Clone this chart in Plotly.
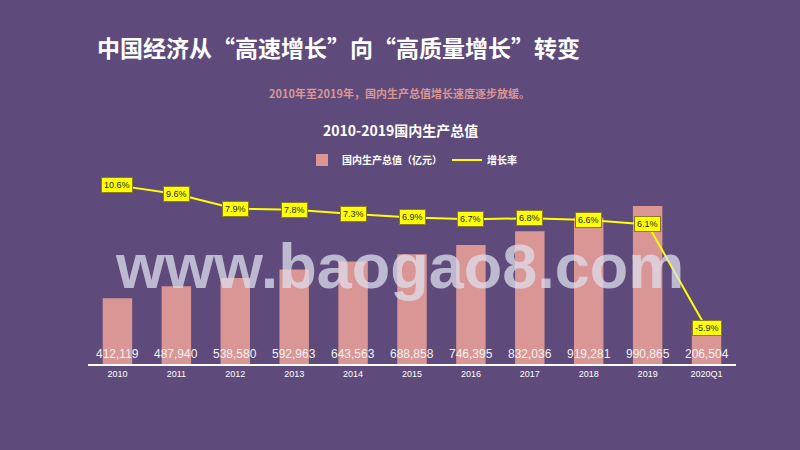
import plotly.graph_objects as go

categories = ["2010", "2011", "2012", "2013", "2014", "2015", "2016", "2017", "2018", "2019", "2020Q1"]
gdp = [412119, 487940, 538580, 592963, 643563, 688858, 746395, 832036, 919281, 990865, 206504]
growth = [10.6, 9.6, 7.9, 7.8, 7.3, 6.9, 6.7, 6.8, 6.6, 6.1, -5.9]

BG = "#5E4B7B"
PINK = "#D99694"
YELLOW = "#FFFF00"
FONT = "Noto Sans CJK SC"

fig = go.Figure()
fig.add_trace(go.Bar(x=categories, y=gdp, name="<b>国内生产总值（亿元）</b>", marker_color=PINK,
                     marker_line_width=0, hoverinfo="skip"))
fig.add_trace(go.Scatter(x=categories, y=growth, name="<b>增长率</b>", yaxis="y2", mode="lines",
                         line=dict(color=YELLOW, width=2), hoverinfo="skip"))

ann = []
for i, v in enumerate(gdp):
    ann.append(dict(x=i, y=0, xref="x", yref="y", text=f"{v:,}", showarrow=False,
                    yanchor="bottom", yshift=1, font=dict(family="Liberation Sans", size=12, color="#F2F2F2")))
for i, g in enumerate(growth):
    ann.append(dict(x=i, y=g, xref="x", yref="y2", text=f"{g}%", showarrow=False,
                    bgcolor=YELLOW, bordercolor="#8a7a20", borderwidth=1, borderpad=2,
                    font=dict(family="Liberation Sans", size=9, color="#222222")))

W, H = 800, 450
L, R, T, B = 88, 64, 165, 86
pw, ph = W - L - R, H - T - B

def px(x, y):
    return (x - L) / pw, (H - B - y) / ph

page = [
    dict(pos=(95, 47), text="<b>中国经济从“高速增长”向“高质量增长”转变</b>", xanchor="left",
         font=dict(family=FONT, size=23, color="white")),
    dict(pos=(399, 93), text="<b>2010年至2019年，国内生产总值增长速度逐步放缓。</b>", xanchor="center",
         font=dict(family=FONT, size=11, color=PINK)),
    dict(pos=(400, 130), text="<b>2010-2019国内生产总值</b>", xanchor="center",
         font=dict(family=FONT, size=14, color="white")),
    dict(pos=(399, 266), text="<b>www.baogao8.com</b>", xanchor="center",
         font=dict(family="Liberation Sans", size=63, color="rgba(222,222,236,0.75)")),
]
for p in page:
    x, y = px(*p.pop("pos"))
    ann.append(dict(x=x, y=y, xref="paper", yref="paper", showarrow=False, yanchor="middle", **p))

fig.update_layout(
    width=W, height=H,
    margin=dict(l=L, r=R, t=T, b=B),
    paper_bgcolor=BG, plot_bgcolor=BG,
    bargap=0.5,
    showlegend=True,
    legend=dict(orientation="h", x=0.5, xanchor="center", y=px(0, 160)[1], yanchor="middle",
                font=dict(family=FONT, size=10, color="white"), bgcolor="rgba(0,0,0,0)",
                itemwidth=30, tracegroupgap=0),
    xaxis=dict(type="category", range=[-0.5, len(categories) - 0.5], autorange=False,
               showgrid=False, showline=True, linecolor="white", linewidth=1.5, ticks="",
               tickfont=dict(family="Liberation Sans", size=9, color="white"), fixedrange=True),
    yaxis=dict(range=[0, 1248000], autorange=False, visible=False, showgrid=False),
    yaxis2=dict(range=[-10, 12.95], autorange=False, overlaying="y", side="right", visible=False, showgrid=False),
    annotations=ann,
)

fig.write_html("out.html", config={"displayModeBar": False},
               post_script="document.body.style.margin='0';")
